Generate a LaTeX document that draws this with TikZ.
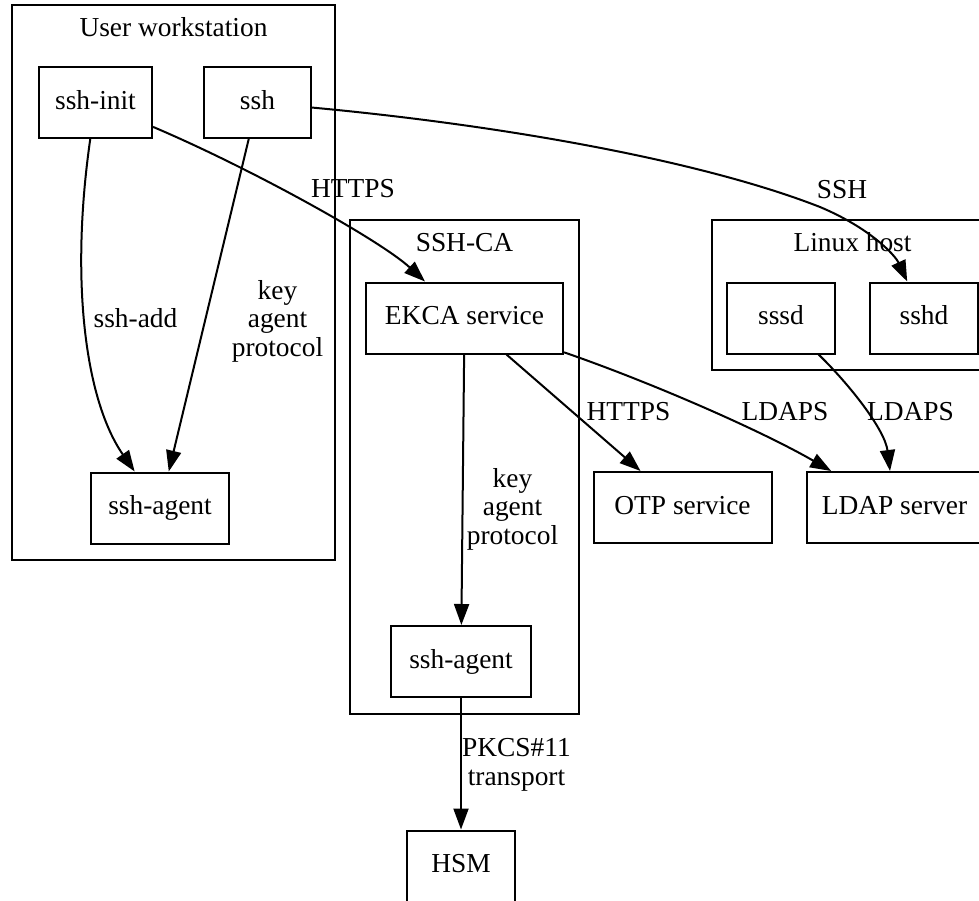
\documentclass[tikz,border=0pt]{standalone}
\usepackage{fontspec}
\setmainfont{Liberation Serif}
\usetikzlibrary{arrows.meta}
\newcommand{\gvfont}{\fontsize{13.7pt}{14.25pt}\selectfont}

\begin{document}
\begin{tikzpicture}[
  % one unit is one pixel of the layout
  x=0.5pt, y=-0.5pt,
  every node/.style={font=\gvfont},
  proc/.style={
    draw,
    line width=1pt,
    minimum height=35.5pt,
    inner sep=0pt,
    text height=9.5pt,
    text depth=3pt
  },
  cluster/.style={draw, line width=1pt},
  arr/.style={
    -{Triangle[length=10.5pt,width=7.5pt]},
    line width=1pt
  },
  lbl/.style={inner sep=0pt, align=center, anchor=north},
  basetxt/.style={inner sep=0pt, anchor=base}
]
\useasboundingbox (0,0) rectangle (979,900);
\clip (0,0) rectangle (979,900);

% Clusters
\draw[cluster] (12,5) rectangle (335,560);
\node[basetxt] (wstitle) at (173.5,36) {User workstation};

\draw[cluster] (350,220) rectangle (579,714);
\node[basetxt] (catitle) at (464.5,251) {SSH-CA};

\draw[cluster] (712,220) rectangle (993,370);
\node[basetxt] (hosttitle) at (852.5,251) {Linux host};

% User workstation
\node[proc, minimum width=56.5pt] (sshinit) at (95.5,102.5) {ssh-init};
\node[proc, minimum width=53.5pt] (ssh) at (257.5,102.5) {ssh};
\node[proc, minimum width=69pt] (agentws) at (160,508) {ssh-agent};

% SSH-CA
\node[proc, minimum width=98.5pt] (ekca) at (464.5,318) {EKCA service};
\node[proc, minimum width=70pt] (agentca) at (461,661.5) {ssh-agent};

% Linux host
\node[proc, minimum width=54pt] (sssd) at (781,318) {sssd};
\node[proc, minimum width=54pt] (sshd) at (924,318) {sshd};

% Services
\node[proc, minimum width=89pt] (otp) at (682.5,507.5) {OTP service};
\node[proc, minimum width=87.5pt] (ldap) at (894.5,507.5) {LDAP server};
\node[proc, minimum width=54pt] (hsm) at (461,866) {HSM};

% Edges
\draw[arr] (sshinit) .. controls (250,168) and (380,240) .. (ekca);
\draw[arr] (sshinit) .. controls (70,280) and (85,400) .. (agentws);
\draw[arr] (ssh) -- (agentws);
\draw[arr] (ssh) .. controls (500,125) and (700,160) .. (820,207)
  .. controls (870,228) and (895,255) .. (sshd);
\draw[arr] (ekca) -- (agentca);
\draw[arr] (ekca) -- (otp);
\draw[arr] (ekca) .. controls (650,382) and (760,430) .. (ldap);
\draw[arr] (sssd) .. controls (850,385) and (885,430) .. (ldap);
\draw[arr] (agentca) -- (hsm);

% Edge labels
\node[basetxt] (lhttpsa) at (353,197) {HTTPS};
\node[basetxt] (lssh) at (842,198) {SSH};
\node[basetxt] (lsshadd) at (135.5,327) {ssh-add};
\node[lbl] (lkapws) at (277.5,280) {key\\agent\\protocol};
\node[lbl] (lkapca) at (512.5,468) {key\\agent\\protocol};
\node[basetxt] (lhttpsb) at (628.5,420) {HTTPS};
\node[basetxt] (lldapsa) at (785,420) {LDAPS};
\node[basetxt] (lldapsb) at (910.5,420) {LDAPS};
\node[lbl] (lpkcs) at (516.5,738) {PKCS\#11\\transport};

\end{tikzpicture}
\end{document}
